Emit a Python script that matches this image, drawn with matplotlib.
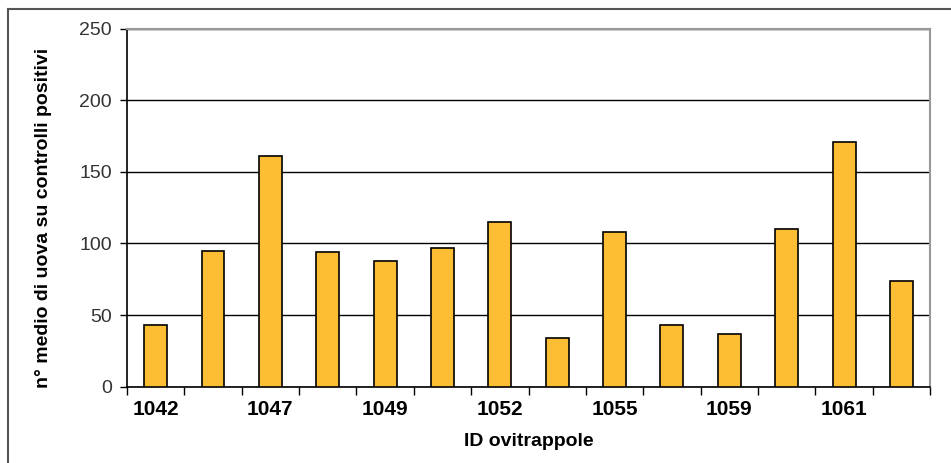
import matplotlib
matplotlib.use('Agg')
import matplotlib.pyplot as plt
from matplotlib.lines import Line2D

plt.rcParams['font.family'] = ['Liberation Sans', 'DejaVu Sans']

# mean eggs per positive check, one value per ovitrap (14 traps)
values = [43, 95, 161, 94, 88, 97, 115, 34, 108, 43, 37, 110, 171, 74]
# only every other trap carries a label on the axis
shown_labels = ['1042', '1047', '1049', '1052', '1055', '1059', '1061']

bar_color = '#FDBE33'

fig = plt.figure(figsize=(9.51, 4.63), dpi=100)
ax = fig.add_axes([0.1335, 0.165, 0.978 - 0.1335, 0.938 - 0.165])

x = list(range(len(values)))
ax.bar(x, values, width=0.4, color=bar_color, edgecolor='black', linewidth=1.2, zorder=3)

ax.set_xlim(-0.5, len(values) - 0.5)
ax.set_ylim(0, 250)
ax.set_yticks([0, 50, 100, 150, 200, 250])
ax.yaxis.grid(True, color='black', linewidth=1.0, zorder=0)
ax.tick_params(axis='y', direction='out', length=5, width=1, color='black',
               labelsize=14, labelcolor='#333333', pad=6)

# tick marks sit between categories, labels under every second bar
ax.set_xticks([i - 0.5 for i in range(len(values) + 1)])
ax.set_xticklabels([])
ax.tick_params(axis='x', which='major', direction='out', length=6, width=1, color='black')
ax.set_xticks(x[::2], minor=True)
ax.set_xticklabels(shown_labels, minor=True, fontweight='bold', fontsize=15,
                   family=['Liberation Sans Narrow', 'Liberation Sans'])
ax.tick_params(axis='x', which='minor', length=0, pad=10)

for side in ['left', 'bottom']:
    ax.spines[side].set_color('black')
    ax.spines[side].set_linewidth(1.2)
for side in ['top', 'right']:
    ax.spines[side].set_color('#999999')
    ax.spines[side].set_linewidth(1.5)

ax.set_xlabel('ID ovitrappole', fontweight='bold', fontsize=14, labelpad=10)
ax.set_ylabel('n° medio di uova su controlli positivi', fontweight='bold', fontsize=14)
ax.yaxis.set_label_coords(-0.093, 0.47)

# outer frame of the original picture (top and left edges only)
fig.add_artist(Line2D([7.5 / 951, 1], [1 - 8.5 / 463, 1 - 8.5 / 463], color='#555555', linewidth=1.5,
                      transform=fig.transFigure))
fig.add_artist(Line2D([7.5 / 951, 7.5 / 951], [0, 1 - 8.5 / 463], color='#555555', linewidth=1.5,
                      transform=fig.transFigure))

fig.savefig('out.png', dpi=100)
